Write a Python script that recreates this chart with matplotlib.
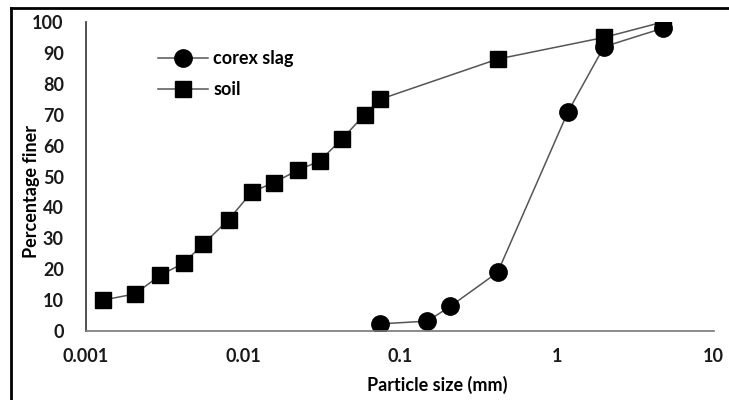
import matplotlib.pyplot as plt
from matplotlib.lines import Line2D

plt.rcParams["font.family"] = "Lato"
plt.rcParams["font.weight"] = "bold"

# sieve data
slag_size = [0.075, 0.15, 0.21, 0.42, 1.18, 2.0, 4.75]
slag_finer = [2.3, 3.2, 8, 19, 71, 92, 98]

soil_size = [0.00128, 0.00205, 0.00296, 0.0042, 0.00555, 0.0081, 0.0114,
             0.0157, 0.0223, 0.0308, 0.0425, 0.0596, 0.075, 0.42, 2.0, 4.75]
soil_finer = [10, 12, 18, 22, 28, 36, 45, 48, 52, 55, 62, 70, 75, 88, 95, 100]

xticks = [0.001, 0.01, 0.1, 1, 10]
xtick_labels = ["0.001", "0.01", "0.1", "1", "10"]
yticks = [0, 10, 20, 30, 40, 50, 60, 70, 80, 90, 100]

fig = plt.figure(figsize=(7.29, 4.0), dpi=100)
ax = fig.add_axes([0.118, 0.1725, 0.861, 0.7725])

ax.plot(slag_size, slag_finer, color="#555555", linewidth=1.1, marker="o",
        markersize=12.5, markerfacecolor="black", markeredgecolor="black",
        label="corex slag")
ax.plot(soil_size, soil_finer, color="#555555", linewidth=1.1, marker="s",
        markersize=11.5, markerfacecolor="black", markeredgecolor="black",
        label="soil")

ax.set_xscale("log")
ax.set_xlim(0.001, 10)
ax.set_ylim(0, 100)
ax.set_xticks(xticks)
ax.set_xticklabels(xtick_labels)
ax.minorticks_off()
ax.set_yticks(yticks)
ax.tick_params(length=0, labelsize=13, colors="#1a1a1a")
ax.tick_params(axis="x", pad=12)
ax.tick_params(axis="y", pad=16)

for s in ["top", "right"]:
    ax.spines[s].set_visible(False)
ax.spines["left"].set_color("#333333")
ax.spines["bottom"].set_color("#777777")
ax.spines["left"].set_linewidth(1.2)
ax.spines["bottom"].set_linewidth(1.2)

ax.set_xlabel("Particle size (mm)", fontsize=13, fontweight="bold")
ax.xaxis.set_label_coords(0.559, -0.145)
ax.set_ylabel("Percentage finer", fontsize=13, fontweight="bold")
ax.yaxis.set_label_coords(-0.074, 0.45)

leg = ax.legend(loc="upper left", bbox_to_anchor=(0.088, 0.962), frameon=False,
                fontsize=13, handlelength=2.8, labelspacing=0.8, handletextpad=0.3)

# frame lines around the picture (left and top)
fig.add_artist(Line2D([11 / 729, 11 / 729], [0, 392 / 400], color="black", linewidth=2))
fig.add_artist(Line2D([11 / 729, 1], [392 / 400, 392 / 400], color="black", linewidth=2))

fig.savefig("out.png", dpi=100)
